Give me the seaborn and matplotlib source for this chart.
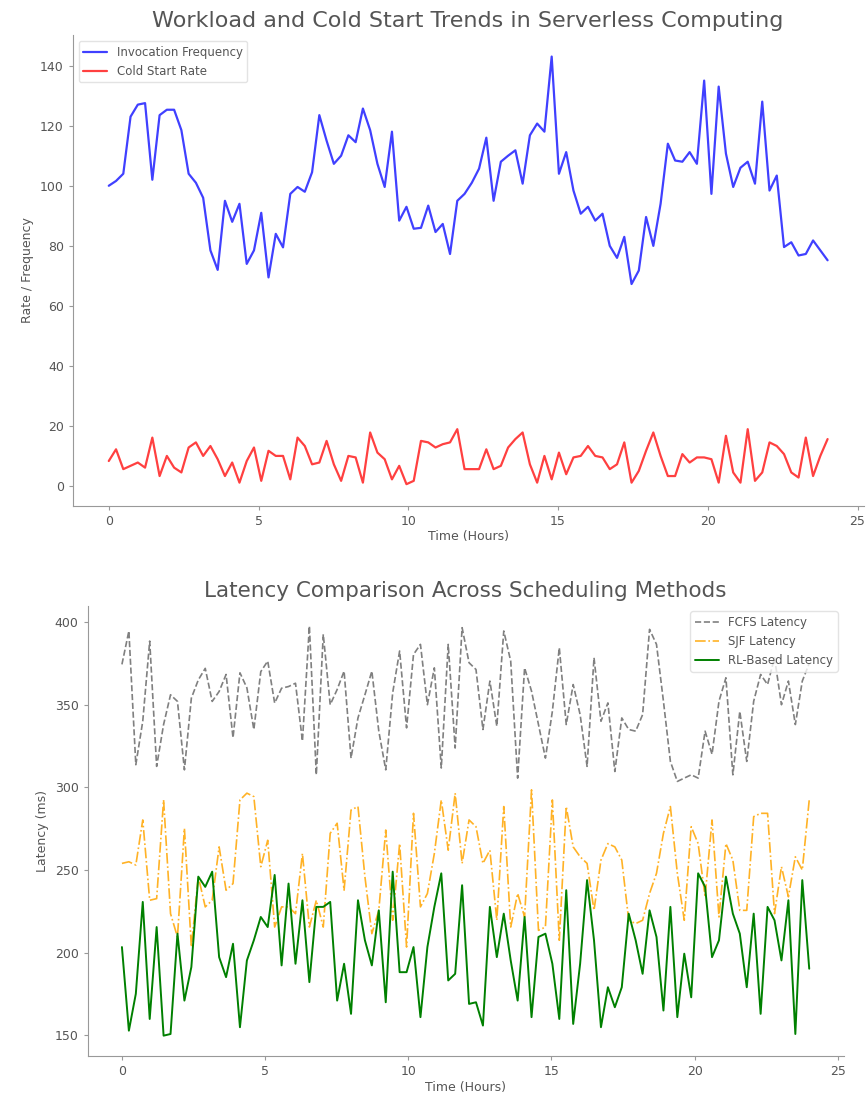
import numpy as np
import pandas as pd
import matplotlib
matplotlib.use("Agg")
import matplotlib.pyplot as plt
import seaborn as sns


# =====================
# DATA
# =====================

hours = np.linspace(0, 24, 100)

invocation_freq = [
    100, 101.6, 104, 123, 127, 127.5, 102, 123.5, 125.3, 125.3,
    118.5, 104, 101, 96, 78.5, 72, 95, 88, 94, 74,
    78.5, 91, 69.5, 84, 79.5, 97.3, 99.6, 98, 104.5, 123.5,
    115, 107.3, 110, 116.8, 114.5, 125.7, 118.5, 107.3, 99.6, 118,
    88.4, 93, 85.7, 86, 93.4, 84.6, 87.3, 77.3, 95, 97.3,
    101, 105.7, 116, 95, 108, 110, 111.8, 100.7, 116.8, 120.7,
    118, 143, 104, 111.2, 98.4, 90.7, 93, 88.4, 90.7, 80,
    76, 83, 67.3, 71.8, 89.6, 80, 94, 114, 108.4, 108,
    111.2, 107.3, 135, 97.3, 133, 110.7, 99.6, 106, 108, 100.7,
    128, 98.4, 103.4, 79.6, 81.2, 76.8, 77.3, 81.8, 78.5, 75.2,
]

cold_start_rate = [
    8.4, 12.3, 5.7, 6.8, 7.9, 6.2, 16.2, 3.4, 10.1, 6.2,
    4.6, 12.9, 14.6, 10.1, 13.4, 9, 3.4, 7.9, 1.2, 8.4,
    12.9, 1.8, 11.8, 10.1, 10.1, 2.3, 16.2, 13.4, 7.3, 7.9,
    15.1, 7.3, 1.8, 10.1, 9.6, 1.2, 17.9, 11.2, 9, 2.3,
    6.8, 0.7, 1.8, 15.1, 14.6, 12.9, 14, 14.6, 19, 5.7,
    5.7, 5.7, 12.3, 5.7, 6.8, 12.9, 15.7, 17.9, 7.3, 1.2,
    10.1, 2.3, 11.2, 4, 9.6, 10.1, 13.4, 10.1, 9.6, 5.7,
    7.3, 14.6, 1.2, 5.1, 11.8, 17.9, 10.1, 3.4, 3.4, 10.7,
    7.9, 9.6, 9.6, 9, 1.2, 16.8, 4.6, 1.2, 19, 1.8,
    4.6, 14.6, 13.4, 10.7, 4.6, 2.9, 16.2, 3.4, 10.1, 15.7,
]

fcfs_latency = [
    374.4, 394.6, 313.7, 340, 388.5, 312.7, 338, 356, 352, 310.6,
    354, 365, 372, 352, 358, 368.3, 330, 369.3, 360.2, 335,
    370, 376.4, 351, 360, 361, 363, 328, 397.6, 307.6, 392.6,
    350, 359.2, 370.3, 317.7, 342, 356, 370.3, 334, 310.6, 357.2,
    382.5, 336, 380.4, 386.5, 350, 372.3, 311.7, 386.5, 323.8, 396.6,
    375.4, 371.3, 335, 364.3, 337, 394.6, 376.4, 305.6, 372.3, 358.2,
    338, 317.7, 346, 384.5, 338, 362.2, 344, 312.7, 378.4, 340,
    351.1, 309.6, 342, 335, 334, 344, 395.6, 386.5, 352.1, 315.7,
    303.6, 305.6, 307.6, 305.6, 334, 320, 352.1, 366.3, 307.6, 346,
    315.7, 352.1, 368.3, 362.2, 378.4, 350, 364.3, 338, 364.3, 375,
]

sjf_latency = [
    254, 255, 253, 280.3, 231.7, 232.7, 292.4, 223.6, 209.5, 275.2,
    203.4, 246, 227.7, 231.7, 264, 237.8, 241.8, 292.4, 296.5, 294.4,
    252, 268, 215.5, 227.7, 227.7, 223.6, 260, 215.5, 231.7, 215.5,
    272.2, 278.3, 237.8, 286.3, 288.4, 246, 211.5, 225.6, 274.2, 219.6,
    266, 203.4, 284.3, 227.7, 235.8, 260, 292.4, 262, 296.5, 254,
    280.3, 276.2, 254, 262, 219.6, 288.4, 215.5, 235.8, 221.6, 298.5,
    213.5, 215.5, 292.4, 207.5, 288.4, 264, 258, 254, 225.6, 256,
    266, 264, 256, 219.6, 217.6, 219.6, 235.8, 248, 272.2, 288.4,
    248, 219.6, 276.2, 266, 233.8, 280.3, 221.6, 266, 256, 225.6,
    225.6, 282.3, 284.3, 284.3, 223.6, 252, 233.8, 258, 250, 292.4,
]

rl_latency = [
    203.4, 152.8, 175.1, 230.7, 159.9, 215.5, 149.8, 150.8, 211.5, 171,
    191.3, 246, 239.8, 249, 197.3, 185.2, 205.4, 154.9, 195.3, 207.5,
    221.6, 215.5, 247, 192.3, 241.8, 193.3, 231.7, 182.2, 227.7, 227.7,
    230.7, 171, 193.3, 163, 231.7, 207.5, 192.3, 225.6, 170, 249,
    188.2, 188.2, 203.4, 161, 203.4, 227.7, 248, 183.2, 187.2, 240.8,
    169, 170, 155.9, 227.7, 197.3, 223.6, 195.3, 171, 221.6, 161,
    209.5, 211.5, 193.3, 159.9, 237.8, 156.9, 193.3, 243.9, 207.5, 154.9,
    179.1, 167, 179.1, 223.6, 207.5, 187.2, 225.6, 209.5, 165, 227.7,
    161, 199.4, 173, 248, 239.8, 197.3, 207.5, 246, 223.6, 211.5,
    179.1, 223.6, 163, 227.7, 219.6, 195.3, 231.7, 150.8, 243.9, 190.3,
]


# =====================
# STYLE
# =====================

sns.set_style("ticks")

text_grey = "#555555"
spine_grey = "#999999"

plt.rcParams.update({
    "font.family": ["DejaVu Sans"],
    "text.color": text_grey,
    "axes.labelcolor": text_grey,
    "axes.edgecolor": spine_grey,
    "xtick.color": spine_grey,
    "ytick.color": spine_grey,
    "xtick.labelcolor": text_grey,
    "ytick.labelcolor": text_grey,
    "xtick.labelsize": 9,
    "ytick.labelsize": 9,
    "axes.labelsize": 9,
    "legend.fontsize": 8.5,
})


# =====================
# FIGURE
# =====================

fig = plt.figure(figsize=(8.67, 10.99), dpi=100)

ax1 = fig.add_axes([0.084, 0.540, 0.912, 0.428])
ax2 = fig.add_axes([0.101, 0.039, 0.872, 0.410])


# top panel: workload and cold starts
sns.lineplot(
    x=hours,
    y=invocation_freq,
    ax=ax1,
    color="blue",
    alpha=0.75,
    linewidth=1.6,
    label="Invocation Frequency"
)

sns.lineplot(
    x=hours,
    y=cold_start_rate,
    ax=ax1,
    color="red",
    alpha=0.75,
    linewidth=1.6,
    label="Cold Start Rate"
)

ax1.set_title(
    "Workload and Cold Start Trends in Serverless Computing",
    fontsize=16,
    color=text_grey
)
ax1.set_xlabel("Time (Hours)", labelpad=2)
ax1.set_ylabel("Rate / Frequency")
ax1.set_xticks([0, 5, 10, 15, 20, 25])
ax1.legend(loc="upper left", edgecolor="#dddddd")


# bottom panel: latency per scheduler
sns.lineplot(
    x=hours,
    y=fcfs_latency,
    ax=ax2,
    color="grey",
    linestyle="--",
    linewidth=1.2,
    label="FCFS Latency"
)

sns.lineplot(
    x=hours,
    y=sjf_latency,
    ax=ax2,
    color="orange",
    linestyle="-.",
    alpha=0.85,
    linewidth=1.2,
    label="SJF Latency"
)

sns.lineplot(
    x=hours,
    y=rl_latency,
    ax=ax2,
    color="green",
    linewidth=1.4,
    label="RL-Based Latency"
)

ax2.set_title(
    "Latency Comparison Across Scheduling Methods",
    fontsize=15.5,
    color=text_grey
)
ax2.set_xlabel("Time (Hours)", labelpad=2)
ax2.set_ylabel("Latency (ms)")
ax2.set_xticks([0, 5, 10, 15, 20, 25])
ax2.legend(loc="upper right", edgecolor="#dddddd")

for ax in (ax1, ax2):
    sns.despine(ax=ax)
    ax.tick_params(length=3, width=0.8)

plt.savefig("out.png", dpi=100)
plt.close()
